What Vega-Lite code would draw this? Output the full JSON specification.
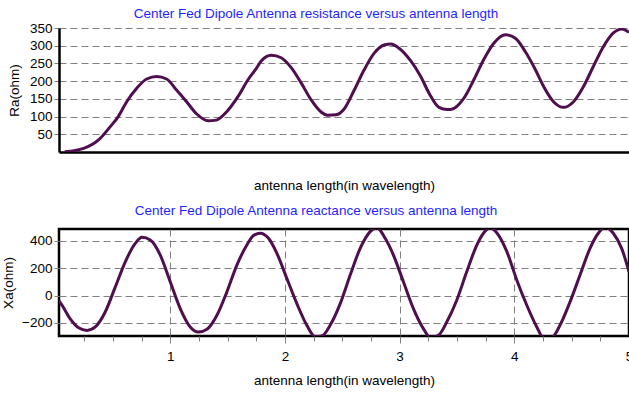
{
  "$schema": "https://vega.github.io/schema/vega-lite/v6.json",
  "padding": {"top": 6, "left": 0, "right": 0, "bottom": 0},
  "background": "white",
  "spacing": 10,
  "config": {
    "font": "Liberation Sans",
    "view": {"stroke": null},
    "title": {"fontSize": 13.5, "fontWeight": "normal", "color": "#1f1fff", "anchor": "middle", "frame": "group", "dx": -28},
    "axis": {"labelFontSize": 13.5, "titleFontSize": 13.5, "titleFontWeight": "normal", "labelColor": "black", "titleColor": "black", "tickColor": "#808080", "gridColor": "#808080", "gridDash": [7, 4], "gridWidth": 1}
  },
  "datasets": {
    "ra": [
      {"L": 0.05, "Ra": 1}, {"L": 0.10, "Ra": 2}, {"L": 0.142, "Ra": 4}, {"L": 0.216, "Ra": 10},
      {"L": 0.347, "Ra": 34}, {"L": 0.448, "Ra": 71}, {"L": 0.52, "Ra": 100}, {"L": 0.594, "Ra": 142},
      {"L": 0.682, "Ra": 180}, {"L": 0.769, "Ra": 206}, {"L": 0.857, "Ra": 213}, {"L": 0.944, "Ra": 206},
      {"L": 1.031, "Ra": 175}, {"L": 1.119, "Ra": 142}, {"L": 1.206, "Ra": 108}, {"L": 1.309, "Ra": 88},
      {"L": 1.381, "Ra": 90}, {"L": 1.469, "Ra": 113}, {"L": 1.571, "Ra": 157}, {"L": 1.658, "Ra": 204},
      {"L": 1.731, "Ra": 236}, {"L": 1.774, "Ra": 257}, {"L": 1.862, "Ra": 273}, {"L": 1.949, "Ra": 266},
      {"L": 2.037, "Ra": 238}, {"L": 2.124, "Ra": 195}, {"L": 2.212, "Ra": 147}, {"L": 2.299, "Ra": 113},
      {"L": 2.357, "Ra": 104}, {"L": 2.430, "Ra": 105}, {"L": 2.503, "Ra": 122}, {"L": 2.590, "Ra": 175},
      {"L": 2.677, "Ra": 232}, {"L": 2.765, "Ra": 279}, {"L": 2.852, "Ra": 302}, {"L": 2.911, "Ra": 305},
      {"L": 2.983, "Ra": 293}, {"L": 3.086, "Ra": 257}, {"L": 3.173, "Ra": 213}, {"L": 3.246, "Ra": 166},
      {"L": 3.333, "Ra": 126}, {"L": 3.406, "Ra": 120}, {"L": 3.435, "Ra": 120}, {"L": 3.552, "Ra": 152},
      {"L": 3.639, "Ra": 204}, {"L": 3.726, "Ra": 261}, {"L": 3.814, "Ra": 307}, {"L": 3.916, "Ra": 331},
      {"L": 4.003, "Ra": 321}, {"L": 4.091, "Ra": 283}, {"L": 4.178, "Ra": 233}, {"L": 4.251, "Ra": 185},
      {"L": 4.338, "Ra": 142}, {"L": 4.426, "Ra": 126}, {"L": 4.513, "Ra": 142}, {"L": 4.601, "Ra": 185},
      {"L": 4.688, "Ra": 242}, {"L": 4.775, "Ra": 297}, {"L": 4.863, "Ra": 336}, {"L": 4.936, "Ra": 347},
      {"L": 5.0, "Ra": 338}
    ],
    "xa": [
      {"L": 0.03, "Xa": -40}, {"L": 0.056, "Xa": -70}, {"L": 0.128, "Xa": -170}, {"L": 0.201, "Xa": -235}, {"L": 0.274, "Xa": -254},
      {"L": 0.346, "Xa": -229}, {"L": 0.433, "Xa": -120}, {"L": 0.521, "Xa": 63}, {"L": 0.608, "Xa": 246},
      {"L": 0.695, "Xa": 380}, {"L": 0.753, "Xa": 424}, {"L": 0.826, "Xa": 405}, {"L": 0.913, "Xa": 295},
      {"L": 1.0, "Xa": 100}, {"L": 1.087, "Xa": -95}, {"L": 1.174, "Xa": -229}, {"L": 1.247, "Xa": -266},
      {"L": 1.320, "Xa": -246}, {"L": 1.407, "Xa": -144}, {"L": 1.494, "Xa": 27}, {"L": 1.581, "Xa": 222},
      {"L": 1.668, "Xa": 368}, {"L": 1.726, "Xa": 437}, {"L": 1.784, "Xa": 454}, {"L": 1.857, "Xa": 417},
      {"L": 1.930, "Xa": 307}, {"L": 2.017, "Xa": 124}, {"L": 2.104, "Xa": -59}, {"L": 2.191, "Xa": -217},
      {"L": 2.264, "Xa": -300}, {"L": 2.322, "Xa": -295}, {"L": 2.394, "Xa": -217}, {"L": 2.482, "Xa": -59},
      {"L": 2.569, "Xa": 149}, {"L": 2.656, "Xa": 344}, {"L": 2.743, "Xa": 466}, {"L": 2.801, "Xa": 495},
      {"L": 2.874, "Xa": 417}, {"L": 2.946, "Xa": 295}, {"L": 3.033, "Xa": 100}, {"L": 3.120, "Xa": -95},
      {"L": 3.207, "Xa": -241}, {"L": 3.266, "Xa": -305}, {"L": 3.338, "Xa": -290}, {"L": 3.411, "Xa": -193},
      {"L": 3.498, "Xa": -34}, {"L": 3.585, "Xa": 173}, {"L": 3.673, "Xa": 368}, {"L": 3.731, "Xa": 454},
      {"L": 3.789, "Xa": 495}, {"L": 3.862, "Xa": 441}, {"L": 3.935, "Xa": 320}, {"L": 4.022, "Xa": 112},
      {"L": 4.109, "Xa": -71}, {"L": 4.196, "Xa": -229}, {"L": 4.253, "Xa": -305}, {"L": 4.326, "Xa": -305},
      {"L": 4.398, "Xa": -217}, {"L": 4.486, "Xa": -46}, {"L": 4.573, "Xa": 149}, {"L": 4.660, "Xa": 344},
      {"L": 4.732, "Xa": 454}, {"L": 4.791, "Xa": 500}, {"L": 4.863, "Xa": 454}, {"L": 4.936, "Xa": 344},
      {"L": 5.0, "Xa": 173}
    ]
  },
  "vconcat": [
    {
      "width": 570,
      "height": 124,
      "title": {"text": "Center Fed Dipole Antenna resistance versus antenna length", "offset": 1},
      "data": {"name": "ra"},
      "mark": {"type": "line", "color": "#4f0f4f", "strokeWidth": 3, "clip": true, "interpolate": "monotone"},
      "encoding": {
        "x": {"field": "L", "type": "quantitative", "scale": {"domain": [0, 5], "nice": false, "zero": false},
          "axis": {"title": "antenna length(in wavelength)", "labels": false, "ticks": false, "grid": false, "domain": true, "domainColor": "black", "domainWidth": 2.5, "titlePadding": 26}},
        "y": {"field": "Ra", "type": "quantitative", "scale": {"domain": [0, 350], "nice": false},
          "axis": {"title": "Ra(ohm)", "values": [50, 100, 150, 200, 250, 300, 350], "grid": true, "tickSize": 5, "labelPadding": 2, "domain": true, "domainColor": "black", "domainWidth": 2.5, "titlePadding": 8}}
      }
    },
    {
      "width": 570,
      "height": 107,
      "view": {"stroke": "black", "strokeWidth": 2.5},
      "title": {"text": "Center Fed Dipole Antenna reactance versus antenna length", "offset": 12},
      "data": {"name": "xa"},
      "mark": {"type": "line", "color": "#4f0f4f", "strokeWidth": 3, "clip": true, "interpolate": "monotone"},
      "encoding": {
        "x": {"field": "L", "type": "quantitative", "scale": {"domain": [0.03, 5], "nice": false, "zero": false},
          "axis": {"title": "antenna length(in wavelength)", "values": [0.25, 0.5, 0.75, 1, 1.25, 1.5, 1.75, 2, 2.25, 2.5, 2.75, 3, 3.25, 3.5, 3.75, 4, 4.25, 4.5, 4.75, 5],
            "labelExpr": "datum.value % 1 === 0 ? format(datum.value, 'd') : ''",
            "grid": true,
            "gridOpacity": {"condition": {"test": "datum.value % 1 === 0 && datum.value < 5", "value": 1}, "value": 0},
            "tickSize": {"condition": {"test": "datum.value % 1 === 0", "value": 7}, "value": 5},
            "domain": false, "labelPadding": 6, "titlePadding": 11, "labelFlush": false}},
        "y": {"field": "Xa", "type": "quantitative", "scale": {"domain": [-295, 485], "nice": false, "zero": false},
          "axis": {"title": "Xa(ohm)", "values": [-200, 0, 200, 400], "grid": true, "tickSize": 5, "labelPadding": 2, "domain": false, "titlePadding": 6}}
      }
    }
  ]
}
